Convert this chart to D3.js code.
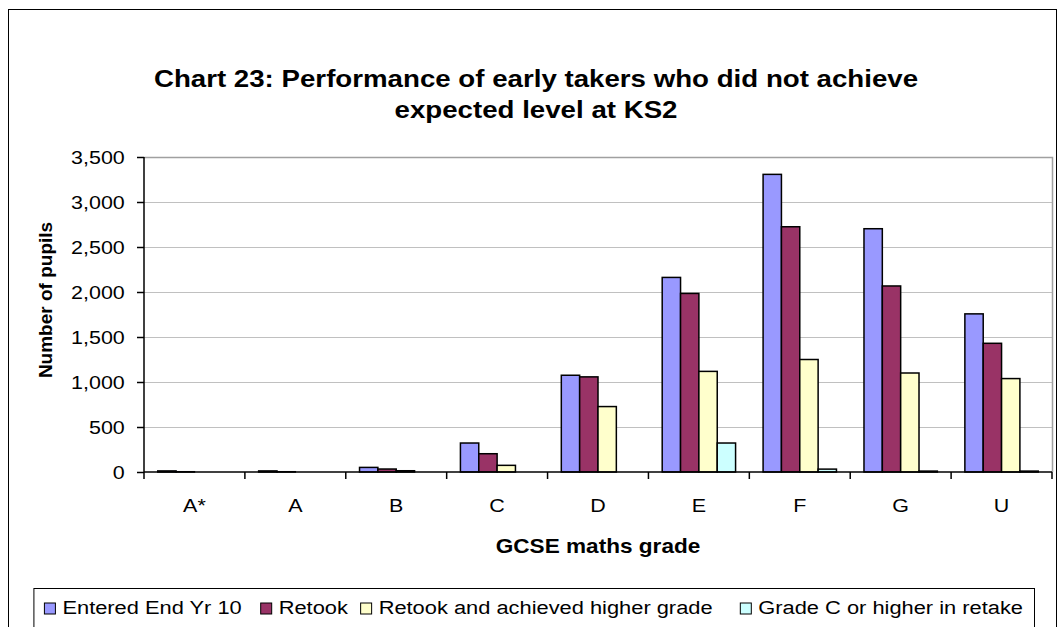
<!DOCTYPE html>
<html>
<head>
<meta charset="utf-8">
<script src="https://d3js.org/d3.v7.min.js"></script>
<style>
  body { margin: 0; background: #fff; }
  text { font-family: "Liberation Sans", Arial, sans-serif; fill: #000; }
</style>
</head>
<body>
<div id="container"></div>
<script>
const w = 1058;
const h = 627;
const stretch = 1.13; // the source chart's text is a little wider than it is tall

// data
let grades = ["A*", "A", "B", "C", "D", "E", "F", "G", "U"];
let seriesNames = ["Entered End Yr 10", "Retook", "Retook and achieved higher grade", "Grade C or higher in retake"];
let enteredYr10 = [12, 12, 51, 322, 1075, 2162, 3307, 2703, 1757];
let retook = [3, 3, 33, 203, 1057, 1984, 2725, 2067, 1430];
let achievedHigher = [0, 0, 14, 74, 727, 1118, 1250, 1100, 1038];
let gradeCRetake = [0, 0, 0, 0, 0, 322, 32, 10, 10];
let yTicks = [0, 500, 1000, 1500, 2000, 2500, 3000, 3500];
let colors = ["#9999ff", "#993366", "#ffffcc", "#ccffff"];

let allSeries = [enteredYr10, retook, achievedHigher, gradeCRetake];

// plot area
const plotLeft = 144, plotRight = 1052, plotTop = 157, plotBottom = 472;

let viz = d3.select("#container").append("svg").attr("width", w).attr("height", h);

// outer chart border
viz.append("rect")
  .attr("x", 8.5).attr("y", 9.5)
  .attr("width", 1048).attr("height", 640)
  .attr("fill", "none").attr("stroke", "#000").attr("stroke-width", 1);

// title
function titleLine(txt, y){
  viz.append("text")
    .attr("transform", "translate(536," + y + ") scale(" + stretch + ",1)")
    .attr("text-anchor", "middle")
    .attr("font-size", 24.5).attr("font-weight", "bold")
    .text(txt);
}
titleLine("Chart 23: Performance of early takers who did not achieve", 87);
titleLine("expected level at KS2", 118);

let xScale = d3.scaleBand().domain(grades).range([plotLeft, plotRight]).padding(0);
let yScale = d3.scaleLinear().domain([0, 3500]).range([plotBottom, plotTop]);

let bw = xScale.bandwidth();
let barW = bw / 5.5;
let x1 = d3.scaleBand().domain(d3.range(4)).range([barW * 0.75, bw - barW * 0.75]).padding(0);

// gridlines
viz.append("g").selectAll("line").data(yTicks.slice(1)).enter().append("line")
  .attr("x1", plotLeft).attr("x2", plotRight)
  .attr("y1", function(d){ return Math.round(yScale(d)) + 0.5 })
  .attr("y2", function(d){ return Math.round(yScale(d)) + 0.5 })
  .attr("stroke", "#c0c0c0").attr("stroke-width", 1);

// plot area border (top / right)
viz.append("path")
  .attr("d", "M" + plotLeft + "," + (plotTop + 0.5) + "H" + (plotRight + 0.5) + "V" + plotBottom)
  .attr("fill", "none").attr("stroke", "#a0a0a0").attr("stroke-width", 1.5);

// bars
let barData = [];
allSeries.forEach(function(vals, s){
  vals.forEach(function(v, i){
    if (v > 0) barData.push({ grade: grades[i], series: s, value: v });
  });
});

viz.append("g").selectAll("rect").data(barData).enter().append("rect")
  .attr("x", function(d){ return xScale(d.grade) + x1(d.series) })
  .attr("y", function(d){ return yScale(d.value) })
  .attr("width", x1.bandwidth())
  .attr("height", function(d){ return plotBottom - yScale(d.value) })
  .attr("fill", function(d){ return colors[d.series] })
  .attr("stroke", "#000").attr("stroke-width", 1.5);

// y axis
let yAxis = d3.axisLeft(yScale).tickValues(yTicks).tickSize(7).tickPadding(10)
  .tickFormat(d3.format(","));
let yAxisGroup = viz.append("g").attr("transform", "translate(" + plotLeft + ",0)").call(yAxis);
yAxisGroup.select(".domain").attr("stroke", "#000").attr("stroke-width", 1.5).attr("d", "M0," + plotTop + "V" + plotBottom);
yAxisGroup.selectAll("line").attr("stroke-width", 1.5);
yAxisGroup.selectAll("text")
  .attr("font-size", 19).attr("font-family", "Liberation Sans, Arial, sans-serif")
  .attr("transform", "scale(" + stretch + ",1)");

// x axis
let xAxis = d3.axisBottom(xScale).tickSize(0).tickPadding(27);
let xAxisGroup = viz.append("g").attr("transform", "translate(0," + plotBottom + ")").call(xAxis);
xAxisGroup.select(".domain").attr("stroke", "#000").attr("stroke-width", 1.5).attr("d", "M" + plotLeft + ",0H" + plotRight);
xAxisGroup.selectAll("text")
  .attr("font-size", 19).attr("font-family", "Liberation Sans, Arial, sans-serif")
  .attr("transform", "scale(" + stretch + ",1)");
// tick marks between categories
xAxisGroup.selectAll(".sep").data(grades.concat(["end"])).enter().append("line")
  .attr("x1", function(d, i){ return plotLeft + i * bw })
  .attr("x2", function(d, i){ return plotLeft + i * bw })
  .attr("y1", 0).attr("y2", 7)
  .attr("stroke", "#000").attr("stroke-width", 1.5);

// axis titles
viz.append("text")
  .attr("transform", "translate(598,553) scale(" + stretch + ",1)")
  .attr("text-anchor", "middle")
  .attr("font-size", 20).attr("font-weight", "bold")
  .text("GCSE maths grade");

viz.append("text")
  .attr("transform", "translate(52,300) rotate(-90)")
  .attr("text-anchor", "middle")
  .attr("font-size", 19).attr("font-weight", "bold")
  .text("Number of pupils");

// legend
let legendStretch = 1.15;
let legend = viz.append("g");
let items = legend.selectAll("g").data(seriesNames).enter().append("g");
items.append("rect")
  .attr("width", 11).attr("height", 11)
  .attr("fill", function(d, i){ return colors[i] })
  .attr("stroke", "#000").attr("stroke-width", 1);
items.append("text")
  .attr("transform", "translate(18,11) scale(" + legendStretch + ",1)")
  .attr("font-size", 19)
  .text(function(d){ return d });

// lay legend items out from the right end; spacing grows a little with the label
let widths = [];
items.each(function(){ widths.push(d3.select(this).select("text").node().getComputedTextLength() * legendStretch) });
let gaps = widths.map(function(wd){ return 8.8 + 0.0566 * wd });
let total = d3.sum(widths) + widths.length * 18 + d3.sum(gaps.slice(0, -1));
let lx = 1023 - total;
items.attr("transform", function(d, i){
  let x = lx;
  lx += 18 + widths[i] + gaps[i];
  return "translate(" + x + ",603)";
});
let boxLeft = 1023 - total - 11;
legend.insert("rect", ":first-child")
  .attr("x", boxLeft + 0.5).attr("y", 588.5)
  .attr("width", 1034 - boxLeft).attr("height", 60)
  .attr("fill", "#fff").attr("stroke", "#000").attr("stroke-width", 1);
</script>
</body>
</html>
